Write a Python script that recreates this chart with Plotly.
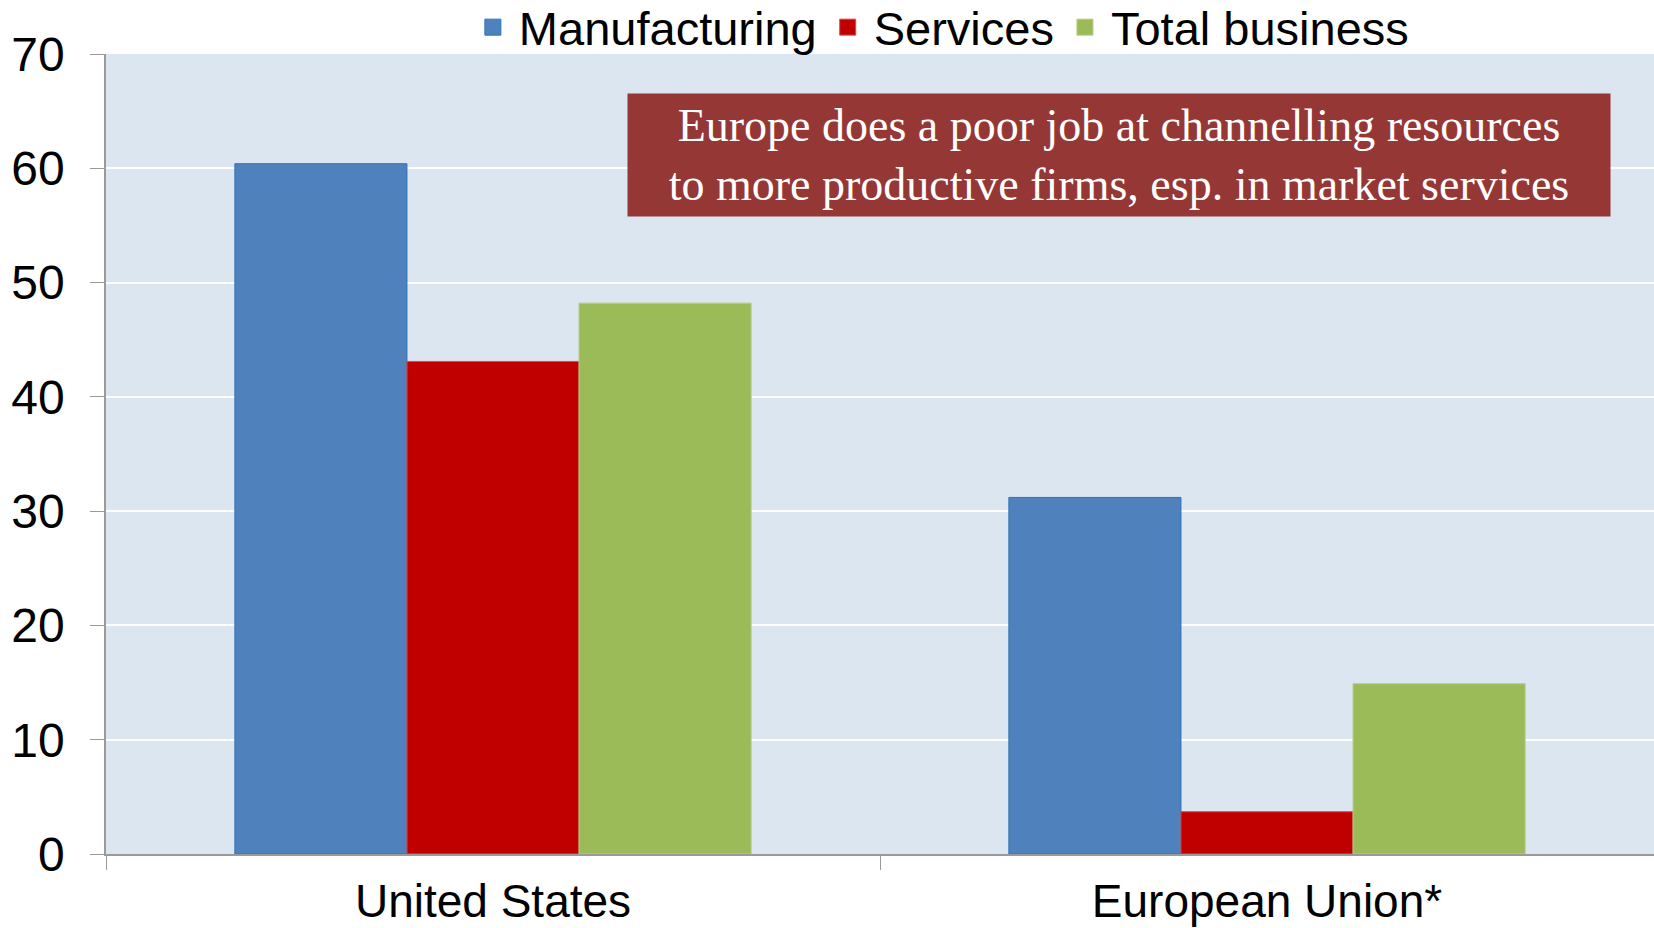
import plotly.graph_objects as go

categories = ["United States", "European Union*"]
manufacturing = [60.4, 31.2]
services = [43.1, 3.7]
total_business = [48.2, 14.9]
y_ticks = [0, 10, 20, 30, 40, 50, 60, 70]
series_names = ["Manufacturing", "Services", "Total business"]
series_colors = ["#4F81BD", "#C00000", "#9BBB59"]
series_edges = ["#2E75B6", "#D05050", "#B5CC8A"]
note = "Europe does a poor job at channelling resources<br>to more productive firms, esp. in market services"

fig = go.Figure()
for name, vals, col, edge in zip(series_names, [manufacturing, services, total_business],
                                 series_colors, series_edges):
    fig.add_trace(go.Bar(name=name, x=categories, y=vals, showlegend=False,
                         marker=dict(color=col, line=dict(color=edge, width=1))))
# legend entries with square swatches
for name, col, edge in zip(series_names, series_colors, series_edges):
    fig.add_trace(go.Scatter(name=name, x=[None], y=[None], mode="markers",
                             marker=dict(symbol="square", size=24, color=col,
                                         line=dict(color=edge, width=1)),
                             showlegend=True))

fig.update_layout(
    width=1654, height=928,
    margin=dict(l=106, r=0, t=54, b=74, autoexpand=False),
    paper_bgcolor="white",
    plot_bgcolor="#DCE6F1",
    barmode="group",
    bargap=0.333,
    bargroupgap=0,
    font=dict(family="Liberation Sans, Arial, sans-serif", color="black", size=48),
    legend=dict(orientation="h", x=0.539, xanchor="center", y=1.033, yanchor="middle",
                font=dict(size=47), itemwidth=42, tracegroupgap=0,
                bgcolor="rgba(0,0,0,0)"),
    xaxis=dict(showline=True, linecolor="#9A9A9A", linewidth=1.5,
               ticks="outside", tickson="boundaries", ticklen=14, tickcolor="#9A9A9A",
               tickfont=dict(size=46), showgrid=False, ticklabelstandoff=6,
               automargin=False),
    yaxis=dict(range=[0, 70], tickvals=y_ticks, showline=True, linecolor="#9A9A9A",
               linewidth=1.5, ticks="outside", ticklen=14, tickcolor="#9A9A9A",
               gridcolor="white", gridwidth=1.5, zeroline=False,
               tickfont=dict(size=48), ticklabelstandoff=16, automargin=False),
)

fig.add_annotation(
    xref="paper", yref="paper",
    x=(1119 - 106) / 1548, y=(855 - 155) / 801,
    xanchor="center", yanchor="middle",
    text=note, showarrow=False, align="center",
    font=dict(family="Liberation Serif, Times New Roman, serif", size=46, color="white"),
    bgcolor="#953735", borderpad=6, width=970, height=110,
)

fig.write_html("out.html", config={"displayModeBar": False},
               post_script="document.body.style.margin='0';")
